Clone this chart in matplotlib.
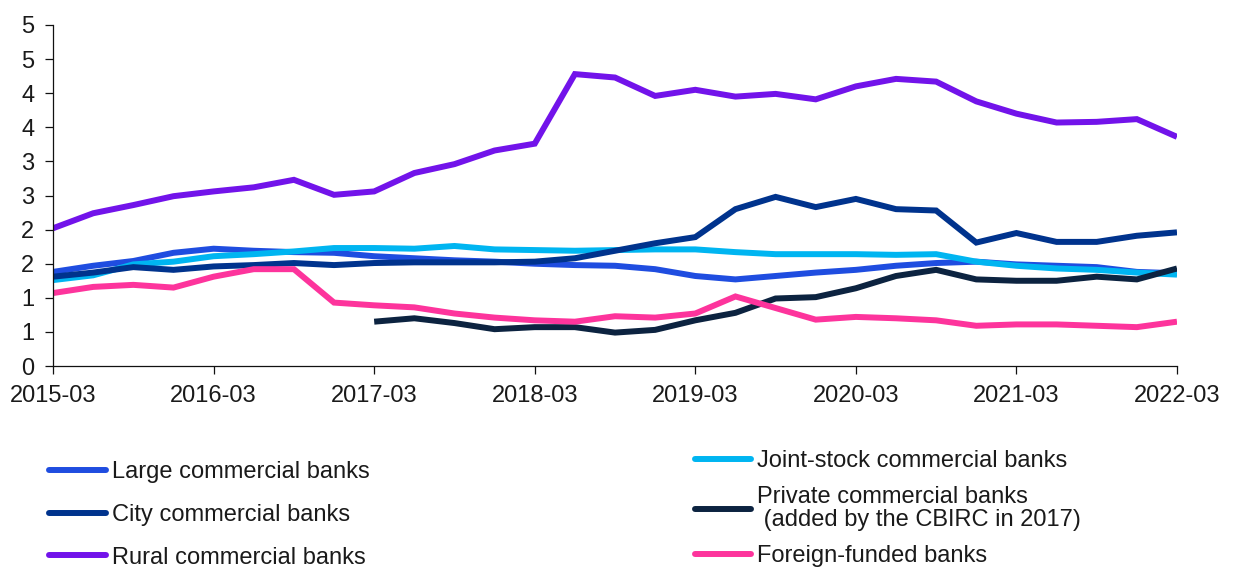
import numpy as np
import matplotlib
matplotlib.use('Agg')
import matplotlib.pyplot as plt

quarters = ['2015-03', '2015-06', '2015-09', '2015-12',
            '2016-03', '2016-06', '2016-09', '2016-12',
            '2017-03', '2017-06', '2017-09', '2017-12',
            '2018-03', '2018-06', '2018-09', '2018-12',
            '2019-03', '2019-06', '2019-09', '2019-12',
            '2020-03', '2020-06', '2020-09', '2020-12',
            '2021-03', '2021-06', '2021-09', '2021-12',
            '2022-03']

# NPL ratios by bank type, %
large = [1.38, 1.47, 1.54, 1.66, 1.72, 1.69, 1.67, 1.66, 1.61, 1.58, 1.55, 1.53, 1.50, 1.48,
         1.47, 1.42, 1.32, 1.27, 1.32, 1.37, 1.41, 1.47, 1.51, 1.53, 1.49, 1.47, 1.45, 1.38, 1.36]
joint_stock = [1.26, 1.33, 1.49, 1.53, 1.61, 1.64, 1.68, 1.73, 1.73, 1.72, 1.76, 1.71, 1.70, 1.69,
               1.70, 1.71, 1.71, 1.67, 1.64, 1.64, 1.64, 1.63, 1.64, 1.53, 1.47, 1.43, 1.41, 1.37, 1.34]
city = [1.31, 1.37, 1.45, 1.41, 1.46, 1.48, 1.51, 1.48, 1.51, 1.52, 1.52, 1.52, 1.53, 1.58,
        1.69, 1.80, 1.89, 2.30, 2.48, 2.33, 2.45, 2.30, 2.28, 1.81, 1.95, 1.82, 1.82, 1.91, 1.96]
private = [np.nan] * 8 + [0.65, 0.70, 0.63, 0.54, 0.57, 0.57, 0.49, 0.53, 0.67, 0.78, 0.99,
                          1.01, 1.14, 1.32, 1.41, 1.27, 1.25, 1.25, 1.31, 1.27, 1.43]
rural = [2.02, 2.24, 2.36, 2.49, 2.56, 2.62, 2.73, 2.51, 2.56, 2.83, 2.96, 3.16, 3.26, 4.28,
         4.23, 3.96, 4.05, 3.95, 3.99, 3.91, 4.10, 4.21, 4.17, 3.88, 3.70, 3.57, 3.58, 3.62, 3.36]
foreign = [1.07, 1.16, 1.19, 1.15, 1.31, 1.42, 1.42, 0.93, 0.89, 0.86, 0.77, 0.71, 0.67, 0.65,
           0.73, 0.71, 0.77, 1.02, 0.85, 0.68, 0.72, 0.70, 0.67, 0.59, 0.61, 0.61, 0.59, 0.57, 0.65]

y_ticks = [0, 0.5, 1, 1.5, 2, 2.5, 3, 3.5, 4, 4.5, 5]
y_tick_labels = ['0', '1', '1', '2', '2', '3', '3', '4', '4', '5', '5']

font = ['Liberation Sans', 'DejaVu Sans']
text_color = '#1a1a1a'

fig = plt.figure(figsize=(12.34, 5.72), dpi=100)
ax = fig.add_axes([0.043, 0.3601, 0.9108, 0.5962])

x = np.arange(len(quarters))
series = [
    ('Large commercial banks', large, '#1f4de0'),
    ('Joint-stock commercial banks', joint_stock, '#00b5f1'),
    ('City commercial banks', city, '#00338d'),
    ('Private commercial banks\n (added by the CBIRC in 2017)', private, '#0c2340'),
    ('Rural commercial banks', rural, '#7213ea'),
    ('Foreign-funded banks', foreign, '#fd349c'),
]
lines = {}
for label, vals, color in series:
    ln, = ax.plot(x, vals, color=color, lw=4.3, solid_capstyle='butt',
                  solid_joinstyle='miter', label=label)
    lines[label] = ln

ax.set_xlim(0, len(quarters) - 1)
ax.set_ylim(0, 5)
ax.set_xticks(x[::4])
ax.set_xticklabels(quarters[::4])
ax.set_yticks(y_ticks)
ax.set_yticklabels(y_tick_labels)

for side in ['top', 'right']:
    ax.spines[side].set_visible(False)
for side in ['left', 'bottom']:
    ax.spines[side].set_linewidth(0.9)
    ax.spines[side].set_color('#111111')
ax.tick_params(direction='out', length=5.5, width=0.9, color='#111111',
               labelsize=17, labelcolor=text_color, pad=8)
for t in ax.get_xticklabels() + ax.get_yticklabels():
    t.set_family(font)

left_keys = ['Large commercial banks', 'City commercial banks', 'Rural commercial banks']
right_keys = ['Joint-stock commercial banks',
              'Private commercial banks\n (added by the CBIRC in 2017)',
              'Foreign-funded banks']

common = dict(frameon=False, borderpad=0, borderaxespad=0, handlelength=2.4,
              handletextpad=0.25, prop={'family': font, 'size': 17},
              labelcolor=text_color, loc='upper left')
leg_left = fig.legend([lines[k] for k in left_keys], left_keys,
                      bbox_to_anchor=(0.04, 0.194), labelspacing=0.88, **common)
leg_right = fig.legend([lines[k] for k in right_keys], right_keys,
                       bbox_to_anchor=(0.563, 0.213), labelspacing=0.6, **common)
for leg in (leg_left, leg_right):
    for h in leg.legend_handles:
        h.set_solid_capstyle('round')
        h.set_linewidth(4.3)
for t in leg_right.get_texts():
    t.set_linespacing(1.05)

fig.savefig('out.png', dpi=100)
